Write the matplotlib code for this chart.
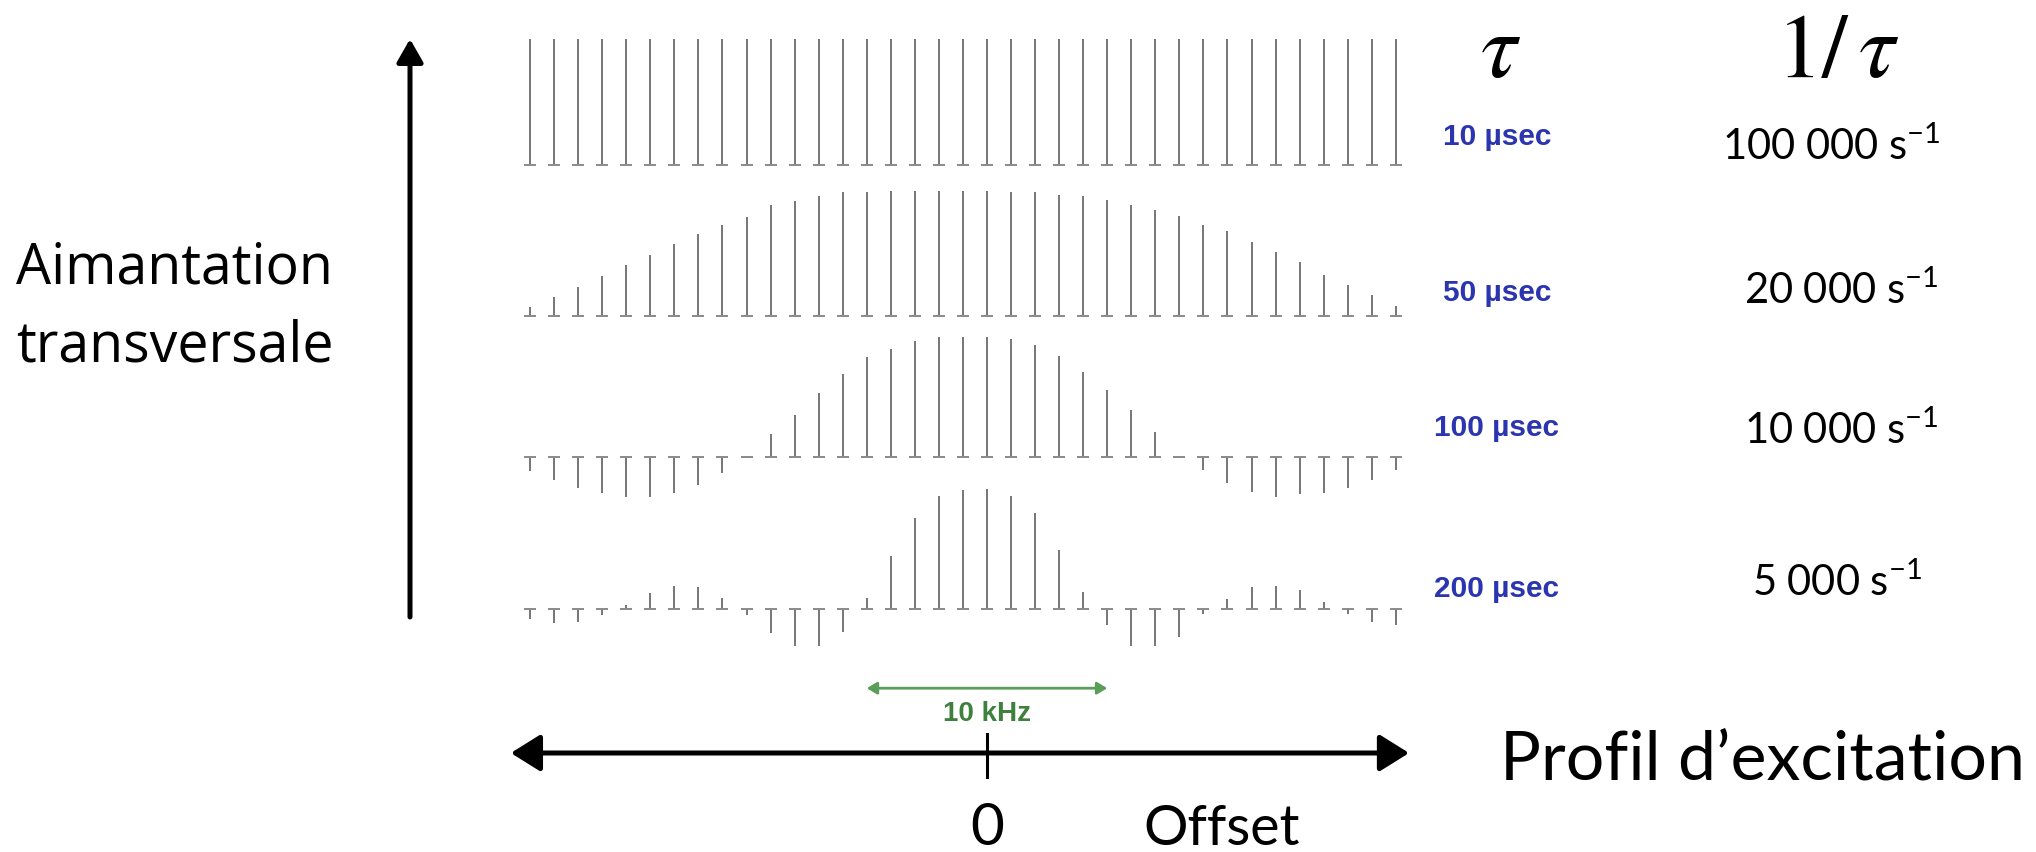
import numpy as np
import matplotlib.pyplot as plt
from matplotlib.transforms import blended_transform_factory

plt.rcParams['mathtext.fontset'] = 'stix'

# one stem per kHz of offset
offset_khz = np.arange(-19, 18)

# transverse magnetisation (normalised)
amp_10us = [1.0, 1.0, 1.0, 1.0, 1.0, 1.0, 1.0, 1.0, 1.0, 1.0, 1.0, 1.0, 1.0,
            1.0, 1.0, 1.0, 1.0, 1.0, 1.0, 1.0, 1.0, 1.0, 1.0, 1.0, 1.0, 1.0,
            1.0, 1.0, 1.0, 1.0, 1.0, 1.0, 1.0, 1.0, 1.0, 1.0, 1.0]
amp_50us = [0.07, 0.15, 0.23, 0.32, 0.41, 0.49, 0.58, 0.66, 0.73, 0.79, 0.89,
            0.92, 0.96, 0.99, 0.99, 1.0, 1.0, 1.0, 1.0, 1.0, 0.99, 0.99, 0.97,
            0.96, 0.93, 0.89, 0.85, 0.80, 0.73, 0.68, 0.59, 0.51, 0.43, 0.33,
            0.25, 0.17, 0.08]
amp_100us = [-0.12, -0.19, -0.26, -0.30, -0.33, -0.33, -0.30, -0.23, -0.13,
             -0.01, 0.19, 0.35, 0.53, 0.69, 0.83, 0.90, 0.97, 1.0, 1.0, 1.0,
             0.98, 0.93, 0.84, 0.71, 0.56, 0.39, 0.21, -0.01, -0.11, -0.22,
             -0.29, -0.33, -0.31, -0.30, -0.26, -0.19, -0.11]
amp_200us = [-0.08, -0.12, -0.11, -0.05, 0.03, 0.13, 0.19, 0.18, 0.09, -0.05,
             -0.20, -0.31, -0.31, -0.19, 0.09, 0.44, 0.76, 0.94, 0.99, 1.0,
             0.94, 0.80, 0.49, 0.14, -0.13, -0.31, -0.31, -0.23, -0.04, 0.08,
             0.18, 0.19, 0.16, 0.06, -0.04, -0.11, -0.13]

pulse_labels = ['10 µsec', '50 µsec', '100 µsec', '200 µsec']
rate_labels = ['100 000', '20 000', '10 000', '5 000']
band_khz = [-5, 5]   # the green "10 kHz" marker

W, H = 2036, 852
fig = plt.figure(figsize=(W / 100, H / 100), dpi=100)

# overlay in pixel coordinates for the arrows and the words
ov = fig.add_axes([0, 0, 1, 1])
ov.set_xlim(0, W)
ov.set_ylim(H, 0)
ov.axis('off')

# stem rows
px_khz = 24.05
x0_px = 987
left_px, right_px = 500, 1420
xlim = ((left_px - x0_px) / px_khz, (right_px - x0_px) / px_khz)
baselines = [165, 316, 457, 609]
unit_px = [126, 125, 120, 120]
ylo, yhi = -1.0, 1.15

rows = [amp_10us, amp_50us, amp_100us, amp_200us]
axes = []
for amp, b, u in zip(rows, baselines, unit_px):
    bottom = H - (b - ylo * u)
    ax = fig.add_axes([left_px / W, bottom / H, (right_px - left_px) / W,
                       (yhi - ylo) * u / H])
    ax.set_xlim(*xlim)
    ax.set_ylim(ylo, yhi)
    ax.axis('off')
    ax.patch.set_alpha(0)
    ax.vlines(offset_khz, 0, amp, color='#767676', lw=1.4)
    ax.plot(offset_khz, np.zeros(len(offset_khz)), ls='none', marker='_',
            ms=8, mew=1.4, color='#8a8a8a')
    axes.append(ax)

ax4 = axes[-1]
ax4.annotate('', xy=(band_khz[0], -0.66), xytext=(band_khz[1], -0.66),
             arrowprops=dict(arrowstyle='<|-|>,head_length=0.5,head_width=0.3',
                             color='#5a9e5a', lw=2.0, mutation_scale=12,
                             shrinkA=0, shrinkB=0))
ax4.text(np.mean(band_khz), -0.875, f'{band_khz[1] - band_khz[0]} kHz',
         ha='center', va='center', color='#3f803f', fontsize=20,
         fontweight='bold', family='Liberation Sans')

# offset axis (x in kHz, y in pixels)
tr = blended_transform_factory(ax4.transData, ov.transData)
ov.annotate('', xy=(17.55, 753), xytext=(-19.8, 753), xycoords=tr, textcoords=tr,
            arrowprops=dict(arrowstyle='<|-|>,head_length=0.4,head_width=0.25',
                            lw=3.6, color='black', mutation_scale=45,
                            shrinkA=0, shrinkB=0))
ov.plot([0, 0], [734, 777], color='black', lw=2.2, transform=tr)
ov.text(0, 845, '0', transform=tr, ha='center', va='baseline',
        family='Lato', fontsize=42)
ov.text(1143, 845, 'Offset', va='baseline', family='Lato', fontsize=40)
ov.text(1500, 780, 'Profil d\u2019excitation', va='baseline', family='Lato',
        fontsize=49)

# vertical axis
ov.annotate('', xy=(410, 39), xytext=(410, 617),
            arrowprops=dict(arrowstyle='-|>,head_length=0.35,head_width=0.2',
                            lw=3.6, color='black', mutation_scale=40,
                            shrinkA=0, shrinkB=0))
ov.text(16, 283, 'Aimantation', va='baseline', family='Open Sans', fontsize=40)
ov.text(16, 361, 'transversale', va='baseline', family='Open Sans', fontsize=40)

# column headers
ov.text(1501, 77, r'$\tau$', ha='center', va='baseline', fontsize=66)
ov.text(1838, 77, r'$1/\,\tau$', ha='center', va='baseline', fontsize=66)

label_base = [145, 301, 436, 597]
rate_x = [1831, 1841, 1841, 1837]
rate_base = [160, 304, 444, 596]
for lab, yb in zip(pulse_labels, label_base):
    ov.text(1497, yb, lab, ha='center', va='baseline', color='#2b35b0',
            family='Liberation Sans', fontweight='bold', fontsize=21.5)
for r, xr, yb in zip(rate_labels, rate_x, rate_base):
    ov.text(xr, yb, r + ' s$\\mathregular{^{-1}}$', ha='center', va='baseline',
            family='Lato', fontsize=30)

fig.savefig('out.png', dpi=100)
